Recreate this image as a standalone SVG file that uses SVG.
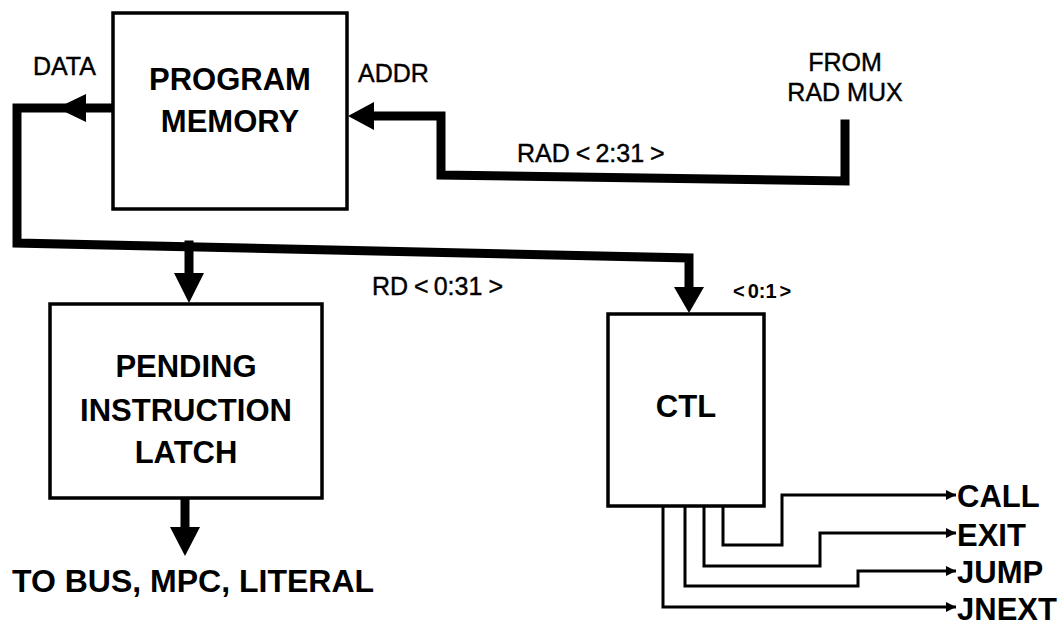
<svg xmlns="http://www.w3.org/2000/svg" width="1064" height="628" viewBox="0 0 1064 628">
<style>
.box{fill:#fff;stroke:#000;stroke-width:3.5}
.bus{fill:none;stroke:#000;stroke-width:9;stroke-linejoin:miter;stroke-linecap:square}
.sig{fill:none;stroke:#000;stroke-width:3;stroke-linejoin:miter}
.head{fill:#000;stroke:none}
.big{font-family:"Liberation Sans",Arial,sans-serif;font-weight:bold;font-size:31px;fill:#000}
.lbl{font-family:"Liberation Sans",Arial,sans-serif;font-size:25px;fill:#000;stroke:#000;stroke-width:0.4}
.sm{font-family:"Liberation Sans",Arial,sans-serif;font-weight:bold;font-size:20px;fill:#000}
.out{font-family:"Liberation Sans",Arial,sans-serif;font-weight:bold;font-size:31px;fill:#000}
</style>
<defs>
<marker id="sa" viewBox="0 0 10 10" refX="10" refY="5" markerWidth="10" markerHeight="10" markerUnits="userSpaceOnUse" orient="auto">
<path d="M0,0 L10,5 L0,10 z" fill="#000"/>
</marker>
</defs>

<g id="connectors">
<path class="bus" d="M113,108 L17,108 L17,243 L689,258 L689,290"/>
<path class="bus" d="M189,245 L189,276"/>
<polygon class="head" points="57,108 86,94 86,122"/>
<polygon class="head" points="174,273 204,273 189,303"/>
<polygon class="head" points="674,287 704,287 689,313"/>
<path class="bus" d="M845,124 L845,181 L441,175 L441,116 L375,116"/>
<polygon class="head" points="348,116 374,102 374,130"/>
<path class="bus" d="M185,500 L185,528"/>
<polygon class="head" points="170,527 200,527 185,556"/>
<path class="sig" marker-end="url(#sa)" d="M723,506 L723,545 L782,545 L782,495 L956,495"/>
<path class="sig" marker-end="url(#sa)" d="M704,506 L704,566 L820,566 L820,533 L956,533"/>
<path class="sig" marker-end="url(#sa)" d="M685,506 L685,586 L858,586 L858,571 L956,571"/>
<path class="sig" marker-end="url(#sa)" d="M663,506 L663,607 L956,607"/>
</g>

<g id="program-memory">
<rect class="box" x="113" y="13" width="234" height="196"/>
<text class="big" x="230" y="90" text-anchor="middle">PROGRAM</text>
<text class="big" x="230" y="132" text-anchor="middle">MEMORY</text>
</g>

<g id="pending-instruction-latch">
<rect class="box" x="50" y="304" width="272" height="194"/>
<text class="big" x="186" y="377" text-anchor="middle">PENDING</text>
<text class="big" x="186" y="421" text-anchor="middle">INSTRUCTION</text>
<text class="big" x="186" y="463" text-anchor="middle">LATCH</text>
</g>

<g id="ctl">
<rect class="box" x="608" y="314" width="156" height="192"/>
<text class="big" x="686" y="417" text-anchor="middle">CTL</text>
</g>

<g id="labels">
<text class="lbl" x="33" y="75">DATA</text>
<text class="lbl" x="358" y="82">ADDR</text>
<text class="lbl" x="845" y="71" text-anchor="middle">FROM</text>
<text class="lbl" x="845" y="101" text-anchor="middle">RAD MUX</text>
<text class="lbl" x="517" y="162">RAD<tspan dx="6">&lt;</tspan><tspan dx="5">2:31</tspan><tspan dx="6">&gt;</tspan></text>
<text class="lbl" x="372" y="295">RD<tspan dx="6">&lt;</tspan><tspan dx="5">0:31</tspan><tspan dx="6">&gt;</tspan></text>
<text class="sm" x="733" y="298">&lt;<tspan dx="3">0:1</tspan><tspan dx="3">&gt;</tspan></text>
<text class="big" x="12" y="592" style="font-size:32px">TO BUS, MPC, LITERAL</text>
<text class="out" x="957" y="507">CALL</text>
<text class="out" x="957" y="546">EXIT</text>
<text class="out" x="957" y="583">JUMP</text>
<text class="out" x="957" y="620">JNEXT</text>
</g>
</svg>
